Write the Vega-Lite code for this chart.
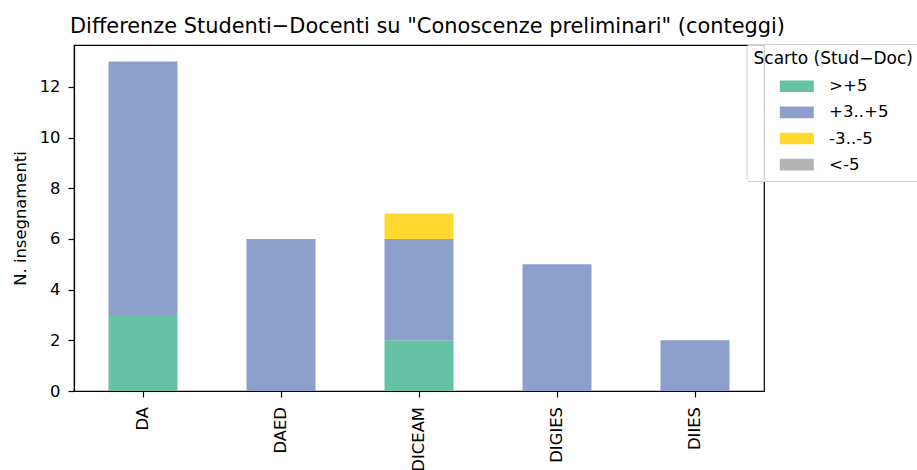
{
  "$schema": "https://vega.github.io/schema/vega-lite/v6.json",
  "autosize": {"type": "none"},
  "width": 690,
  "height": 346,
  "padding": {"left": 74, "top": 45, "right": 153, "bottom": 79},
  "background": "white",
  "config": {
    "font": "DejaVu Sans",
    "view": {"stroke": "black", "strokeWidth": 1.2},
    "axis": {
      "labelFont": "DejaVu Sans", "titleFont": "DejaVu Sans",
      "labelFontSize": 16.4, "titleFontSize": 16.4,
      "labelColor": "black", "titleColor": "black",
      "titleFontWeight": "normal",
      "domainColor": "black", "tickColor": "black",
      "domainWidth": 1.2, "tickWidth": 1.2, "tickSize": 6,
      "labelPadding": 8, "grid": false
    }
  },
  "title": {
    "text": "Differenze Studenti\u2212Docenti su \"Conoscenze preliminari\" (conteggi)",
    "anchor": "start",
    "frame": "group",
    "font": "DejaVu Sans",
    "fontSize": 20.9,
    "fontWeight": "normal",
    "color": "black",
    "offset": 7,
    "dx": -4
  },
  "data": {
    "values": [
      {"dip": "DA", "cat": ">+5", "k": 0, "n": 3},
      {"dip": "DA", "cat": "+3..+5", "k": 1, "n": 10},
      {"dip": "DAED", "cat": "+3..+5", "k": 1, "n": 6},
      {"dip": "DICEAM", "cat": ">+5", "k": 0, "n": 2},
      {"dip": "DICEAM", "cat": "+3..+5", "k": 1, "n": 4},
      {"dip": "DICEAM", "cat": "-3..-5", "k": 2, "n": 1},
      {"dip": "DIGIES", "cat": "+3..+5", "k": 1, "n": 5},
      {"dip": "DIIES", "cat": "+3..+5", "k": 1, "n": 2}
    ]
  },
  "mark": {"type": "bar"},
  "encoding": {
    "x": {
      "field": "dip", "type": "nominal",
      "sort": ["DA", "DAED", "DICEAM", "DIGIES", "DIIES"],
      "scale": {"paddingInner": 0.5, "paddingOuter": 0.25},
      "axis": {"title": null, "labelAngle": 270, "labelAlign": "right", "labelBaseline": "middle", "labelPadding": 9.5}
    },
    "y": {
      "field": "n", "type": "quantitative", "stack": "zero",
      "scale": {"domain": [0, 13.65], "nice": false},
      "axis": {"title": "N. insegnamenti", "values": [0, 2, 4, 6, 8, 10, 12], "titlePadding": 11}
    },
    "color": {
      "field": "cat", "type": "nominal",
      "scale": {
        "domain": [">+5", "+3..+5", "-3..-5", "<-5"],
        "range": ["#66c2a5", "#8da0cb", "#ffd92f", "#b3b3b3"]
      },
      "legend": {
        "title": "Scarto (Stud\u2212Doc)",
        "orient": "none",
        "legendX": 672.5,
        "legendY": -1,
        "padding": 7,
        "titleFont": "DejaVu Sans",
        "titleFontSize": 17,
        "titleFontWeight": "normal",
        "titleColor": "black",
        "titlePadding": 10,
        "labelFont": "DejaVu Sans",
        "labelFontSize": 16.6,
        "labelColor": "black",
        "labelOffset": 59,
        "symbolType": "M2.57,-0.83H7.43V0.83H2.57Z",
        "symbolSize": 196,
        "symbolStrokeWidth": 0,
        "rowPadding": 9.1,
        "offset": 0,
        "strokeColor": "#d0d0d0",
        "fillColor": "rgba(255,255,255,0.8)",
        "cornerRadius": 3
      }
    },
    "order": {"field": "k", "type": "quantitative", "sort": "ascending"}
  }
}
